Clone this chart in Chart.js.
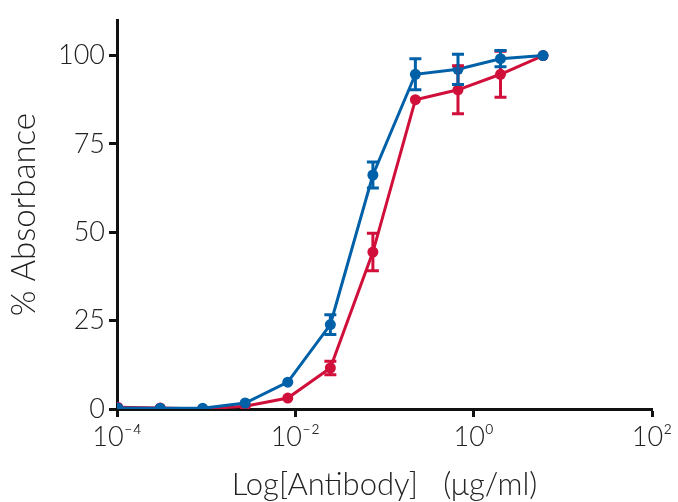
<!DOCTYPE html>
<html>
<head>
<meta charset="utf-8">
<script src="https://cdn.jsdelivr.net/npm/chart.js@4.4.1/dist/chart.umd.min.js"></script>
<style>
  html, body { margin: 0; padding: 0; background: #fff; }
</style>
</head>
<body>
<canvas id="dose-chart" width="678" height="502"></canvas>
<script>
// Antibody dilution series (µg/ml) and % absorbance readings
const concentrations = [0.000102, 0.000305, 0.000914, 0.00274, 0.00823, 0.0247, 0.0741, 0.222, 0.667, 2, 6];
const blueValues = [0.3, 0.2, 0.2, 1.7, 7.6, 23.9, 66.2, 94.7, 96.1, 99.1, 100];
const blueErrors = [0, 0, 0, 0, 0, 2.8, 3.7, 4.4, 4.3, 2.3, 0];
const redValues = [0.5, 0.3, 0.0, 0.8, 3.1, 11.6, 44.4, 87.5, 90.3, 94.7, 100];
const redErrors = [0, 0, 0, 0, 0, 1.9, 5.3, 0, 6.8, 6.5, 0];

const xTickValues = [1e-4, 1e-2, 1, 100];
const xTickLabels = ['10⁻⁴', '10⁻²', '10⁰', '10²'];
const yTickValues = [0, 25, 50, 75, 100];

const BLUE = '#0060a8';
const RED = '#d0103a';
const AXIS = '#111111';
const FONT = "Lato, 'Open Sans', sans-serif";

function toPoints(values) {
  return concentrations.map((c, i) => ({ x: c, y: values[i] }));
}

// draws vertical error bars with caps, using the chart scales
const errorBars = {
  id: 'errorBars',
  afterDatasetsDraw(chart) {
    const { ctx, scales: { x, y } } = chart;
    const sets = [[redValues, redErrors, RED], [blueValues, blueErrors, BLUE]];
    ctx.save();
    ctx.lineWidth = 3;
    sets.forEach(([vals, errs, color]) => {
      ctx.strokeStyle = color;
      vals.forEach((v, i) => {
        if (!errs[i]) return;
        const px = x.getPixelForValue(concentrations[i]);
        const top = y.getPixelForValue(v + errs[i]);
        const bot = y.getPixelForValue(v - errs[i]);
        ctx.beginPath();
        ctx.moveTo(px, top); ctx.lineTo(px, bot);
        ctx.moveTo(px - 6, top); ctx.lineTo(px + 6, top);
        ctx.moveTo(px - 6, bot); ctx.lineTo(px + 6, bot);
        ctx.stroke();
      });
    });
    ctx.restore();
  }
};

const ctx = document.getElementById('dose-chart').getContext('2d');

new Chart(ctx, {
  type: 'line',
  data: {
    datasets: [
      {
        label: 'Blue',
        data: toPoints(blueValues),
        borderColor: BLUE,
        backgroundColor: BLUE,
        pointBackgroundColor: BLUE,
        pointBorderWidth: 0,
        pointRadius: 5.5,
        borderWidth: 3
      },
      {
        label: 'Red',
        data: toPoints(redValues),
        borderColor: RED,
        backgroundColor: RED,
        pointBackgroundColor: RED,
        pointBorderWidth: 0,
        pointRadius: 5.5,
        borderWidth: 3
      }
    ]
  },
  options: {
    responsive: false,
    animation: false,
    layout: { padding: { top: 17, right: 26, left: 0, bottom: 0 } },
    plugins: {
      legend: { display: false },
      tooltip: { enabled: false }
    },
    scales: {
      x: {
        type: 'logarithmic',
        min: 1e-4,
        max: 100,
        border: { color: AXIS, width: 3 },
        grid: { drawOnChartArea: false, drawTicks: true, tickLength: 8, tickWidth: 3, tickColor: AXIS },
        ticks: {
          color: '#222',
          font: { family: FONT, size: 27, weight: '300' },
          padding: 4,
          maxRotation: 0,
          autoSkip: false,
          callback: (value) => {
            const idx = xTickValues.indexOf(value);
            return idx >= 0 ? xTickLabels[idx] : '';
          }
        },
        afterBuildTicks: (scale) => {
          scale.ticks = xTickValues.map(v => ({ value: v, major: true }));
        },
        title: {
          display: true,
          text: 'Log[Antibody]   (μg/ml)',
          color: '#222',
          font: { family: FONT, size: 31, weight: '300', lineHeight: 1.1 },
          padding: { top: 0, bottom: 0 }
        },
        afterFit: (scale) => { scale.height = 93; }
      },
      y: {
        min: 0,
        max: 110,
        border: { color: AXIS, width: 3 },
        grid: { drawOnChartArea: false, drawTicks: true, tickLength: 8, tickWidth: 3, tickColor: AXIS },
        ticks: {
          color: '#222',
          font: { family: FONT, size: 27, weight: '300' },
          padding: 4
        },
        afterBuildTicks: (scale) => {
          scale.ticks = yTickValues.map(v => ({ value: v }));
        },
        title: {
          display: true,
          text: '% Absorbance',
          color: '#222',
          font: { family: FONT, size: 33, weight: '300', lineHeight: 1.1 },
          padding: { top: 6, bottom: 0 }
        },
        afterFit: (scale) => { scale.width = 117; }
      }
    }
  },
  plugins: [errorBars]
});
</script>
</body>
</html>
